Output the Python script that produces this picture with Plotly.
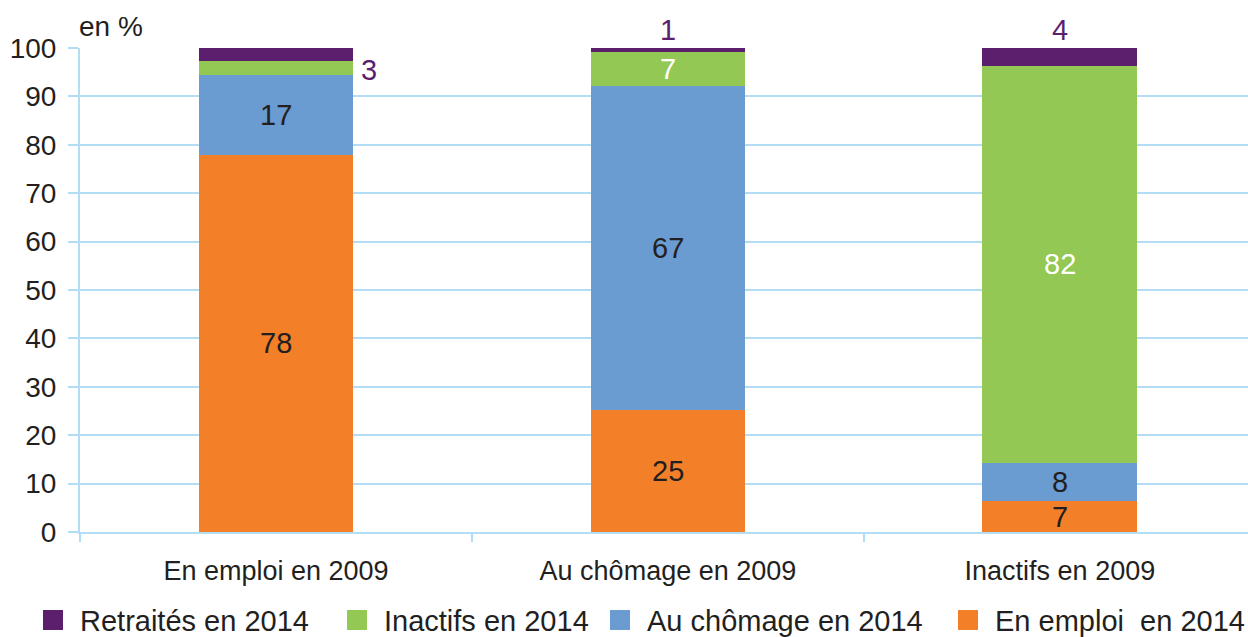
import plotly.graph_objects as go

categories = ["En emploi en 2009", "Au chômage en 2009", "Inactifs en 2009"]
series_names = ["En emploi  en 2014", "Au chômage en 2014", "Inactifs en 2014", "Retraités en 2014"]
en_emploi = [77.9, 25.2, 6.4]
au_chomage = [16.5, 66.9, 7.9]
inactifs = [2.9, 7.1, 82.0]
retraites = [2.7, 0.8, 3.7]
labels_emploi = ["78", "25", "7"]
labels_chomage = ["17", "67", "8"]
labels_inactifs = ["3", "7", "82"]
labels_retraites = ["3", "1", "4"]
y_ticks = [0, 10, 20, 30, 40, 50, 60, 70, 80, 90, 100]

colors = {"emploi": "#f47f29", "chomage": "#6a9bd1", "inactifs": "#92c853", "retraites": "#5b1f6e"}
TXT = "#231f20"
GRID = "#b3dcf5"
FONT = "Liberation Sans"
BW = 0.395

# layout geometry (pixels)
W, H = 1248, 637
L, T, B = 80, 48, 105
PW, PH = W - L, H - T - B


def px_x(x):
    return (x - L) / PW


def px_y(y):
    return (H - B - y) / PH


fig = go.Figure()
series = [
    (series_names[0], en_emploi, colors["emploi"]),
    (series_names[1], au_chomage, colors["chomage"]),
    (series_names[2], inactifs, colors["inactifs"]),
    (series_names[3], retraites, colors["retraites"]),
]
for name, vals, col in series:
    fig.add_trace(go.Bar(x=categories, y=vals, name=name, marker=dict(color=col, line=dict(width=0)),
                         width=BW, showlegend=False, hoverinfo="y"))

LBL = 29
annotations = []
for i, c in enumerate(categories):
    base = 0
    stack = [(en_emploi[i], labels_emploi[i]), (au_chomage[i], labels_chomage[i]),
             (inactifs[i], labels_inactifs[i]), (retraites[i], labels_retraites[i])]
    for k, (v, lab) in enumerate(stack):
        mid = base + v / 2
        top = base + v
        if k == 3:
            annotations.append(dict(x=c, y=top, text=lab, showarrow=False, yanchor="bottom", yshift=0,
                                    font=dict(color=colors["retraites"], size=LBL, family=FONT)))
        elif k == 2 and v < 5:
            annotations.append(dict(x=i + BW / 2, y=mid, xref="x", text=lab, showarrow=False,
                                    xanchor="left", xshift=6, yshift=-2,
                                    font=dict(color=colors["retraites"], size=LBL, family=FONT)))
        else:
            col = "white" if k == 2 else TXT
            annotations.append(dict(x=c, y=mid, text=lab, showarrow=False,
                                    font=dict(color=col, size=LBL, family=FONT)))
        base = top

annotations.append(dict(x=px_x(77), y=px_y(27), xref="paper", yref="paper",
                        text="en %", showarrow=False, xanchor="left", yanchor="middle",
                        font=dict(color=TXT, size=28, family=FONT)))

# manual legend (order as in reference)
legend_items = [series[3], series[2], series[1], series[0]]
legend_icon_x = [53, 357, 620, 968]
LEG_Y = 620
shapes = []
for (name, vals, col), cx in zip(legend_items, legend_icon_x):
    shapes.append(dict(type="rect", xref="paper", yref="paper",
                       x0=px_x(cx - 10), x1=px_x(cx + 10), y0=px_y(LEG_Y + 10), y1=px_y(LEG_Y - 10),
                       fillcolor=col, line=dict(width=0)))
    annotations.append(dict(x=px_x(cx + 25), y=px_y(LEG_Y + 1), xref="paper", yref="paper",
                            text=name, showarrow=False, xanchor="left", yanchor="middle",
                            font=dict(color=TXT, size=29, family=FONT)))

fig.update_layout(
    width=W, height=H,
    margin=dict(l=L, r=0, t=T, b=B),
    paper_bgcolor="white", plot_bgcolor="white",
    barmode="stack",
    showlegend=False,
    font=dict(family=FONT, color=TXT, size=24),
    annotations=annotations,
    shapes=shapes,
    xaxis=dict(range=[-0.5, 2.48], showgrid=False, showline=True, linecolor=GRID, linewidth=2,
               ticks="outside", tickson="boundaries", ticklen=8, tickcolor=GRID, tickwidth=2,
               ticklabelstandoff=14, automargin=False,
               tickfont=dict(size=27, family=FONT, color=TXT)),
    yaxis=dict(range=[0, 100], tickvals=y_ticks, showgrid=True, gridcolor=GRID, gridwidth=2,
               showline=True, linecolor=GRID, linewidth=2, ticks="outside", ticklen=10,
               tickcolor=GRID, tickwidth=2, zeroline=False, automargin=False,
               ticklabelstandoff=6,
               tickfont=dict(size=28, family=FONT, color=TXT)),
)

fig.write_html("out.html", config={"displayModeBar": False},
               post_script="document.body.style.margin='0px';document.body.style.overflow='hidden';")
